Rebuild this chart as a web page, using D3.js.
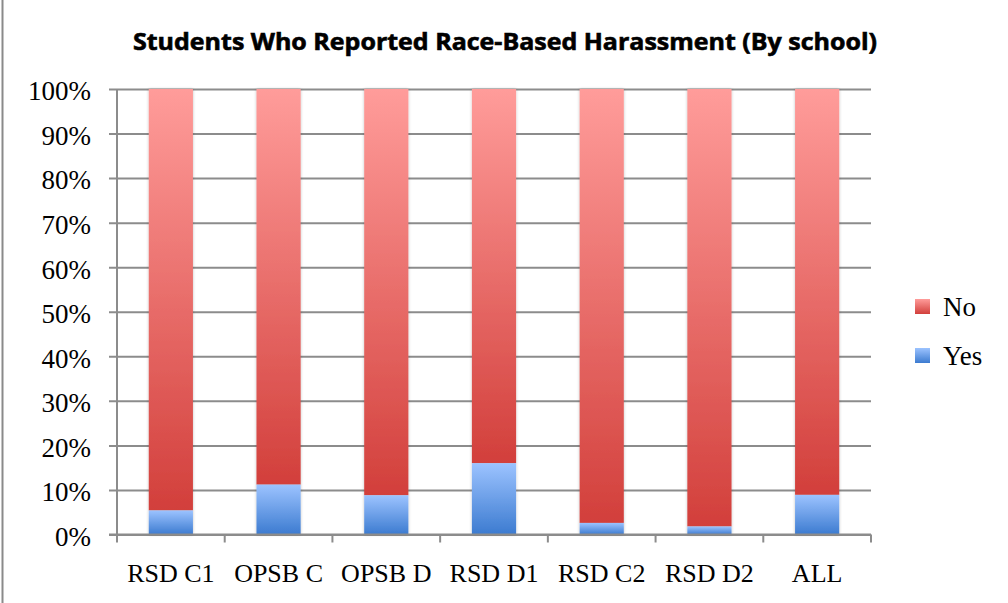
<!DOCTYPE html>
<html>
<head>
<meta charset="utf-8">
<script src="https://cdnjs.cloudflare.com/ajax/libs/d3/7.8.5/d3.min.js"></script>
<style>
  html, body { margin: 0; padding: 0; background: #fff; }
  svg { display: block; }
</style>
</head>
<body>
<svg id="chart" width="1008" height="603"></svg>
<script>
// Share of students reporting race-based harassment, per school
const schools = ["RSD C1", "OPSB C", "OPSB D", "RSD D1", "RSD C2", "RSD D2", "ALL"];
const yesPct = [5.4, 11.2, 8.8, 16.0, 2.6, 1.8, 8.9];
const noPct = yesPct.map(v => 100 - v);
const yTicks = [0, 10, 20, 30, 40, 50, 60, 70, 80, 90, 100];
const seriesNames = ["No", "Yes"];

const svg = d3.select("#chart");
const margin = { left: 117, right: 871, top: 89, bottom: 534.5 };
const serif = "'Liberation Serif', serif";

const x = d3.scaleBand().domain(schools).range([margin.left, margin.right]).paddingInner(0.59).paddingOuter(0.295);
const xOuter = d3.scaleBand().domain(schools).range([margin.left, margin.right]);
const y = d3.scaleLinear().domain([0, 100]).range([margin.bottom, margin.top]);

// frame edge on the left
svg.append("line").attr("x1", 2.5).attr("x2", 2.5).attr("y1", 0).attr("y2", 603)
  .attr("stroke", "#8a8a8a").attr("stroke-width", 2);

const defs = svg.append("defs");
function grad(id, top, bottom) {
  const g = defs.append("linearGradient").attr("id", id).attr("x1", 0).attr("x2", 0).attr("y1", 0).attr("y2", 1);
  g.append("stop").attr("offset", "0%").attr("stop-color", top);
  g.append("stop").attr("offset", "100%").attr("stop-color", bottom);
}
grad("gNo", "#ff9c9a", "#d23f3b");
grad("gYes", "#9cc3ff", "#3c7bd0");
const sh = defs.append("filter").attr("id", "shadow").attr("x", "-20%").attr("y", "-5%").attr("width", "140%").attr("height", "110%");
sh.append("feGaussianBlur").attr("in", "SourceAlpha").attr("stdDeviation", 1.5).attr("result", "b");
sh.append("feComponentTransfer").attr("in", "b").attr("result", "c")
  .append("feFuncA").attr("type", "linear").attr("slope", 0.25);
const m = sh.append("feMerge");
m.append("feMergeNode").attr("in", "c");
m.append("feMergeNode").attr("in", "SourceGraphic");

// horizontal gridlines with left tick stubs
const yAxis = d3.axisLeft(y).tickValues(yTicks).tickFormat(d => d + "%")
  .tickSize(-(margin.right - margin.left)).tickSizeOuter(0).tickPadding(26);
const gy = svg.append("g").attr("transform", `translate(${margin.left},0)`).call(yAxis);
gy.select(".domain").remove();
gy.selectAll(".tick line").attr("stroke", "#8c8c8c").attr("stroke-width", 2).attr("x1", -8);
gy.selectAll(".tick text").attr("font-family", serif).attr("font-size", 27).attr("dy", "0.4em").attr("fill", "#000");

// bars
const bars = svg.append("g").attr("filter", "url(#shadow)");
schools.forEach((s, i) => {
  bars.append("rect").attr("x", x(s)).attr("width", x.bandwidth())
    .attr("y", y(yesPct[i] + noPct[i])).attr("height", y(yesPct[i]) - y(yesPct[i] + noPct[i]))
    .attr("fill", "url(#gNo)");
  bars.append("rect").attr("x", x(s)).attr("width", x.bandwidth())
    .attr("y", y(yesPct[i])).attr("height", y(0) - y(yesPct[i]))
    .attr("fill", "url(#gYes)");
});

// axes lines
svg.append("line").attr("x1", margin.left).attr("x2", margin.left).attr("y1", margin.top).attr("y2", margin.bottom)
  .attr("stroke", "#8c8c8c").attr("stroke-width", 2);
svg.append("line").attr("x1", margin.left - 8).attr("x2", margin.right).attr("y1", margin.bottom).attr("y2", margin.bottom)
  .attr("stroke", "#8c8c8c").attr("stroke-width", 2);

// category boundary ticks
const bounds = schools.map(s => xOuter(s)).concat([margin.right]);
svg.append("g").selectAll("line").data(bounds).join("line")
  .attr("x1", d => d).attr("x2", d => d).attr("y1", margin.bottom).attr("y2", margin.bottom + 8)
  .attr("stroke", "#8c8c8c").attr("stroke-width", 2);

// category labels
svg.append("g").selectAll("text").data(schools).join("text")
  .attr("x", d => xOuter(d) + xOuter.bandwidth() / 2).attr("y", 581.5)
  .attr("text-anchor", "middle").attr("font-family", serif).attr("font-size", 26)
  .text(d => d);

// title
svg.append("text").attr("x", 505).attr("y", 50).attr("text-anchor", "middle")
  .attr("font-family", "'Open Sans', sans-serif").attr("font-weight", "bold").attr("font-size", 23)
  .attr("stroke", "#000").attr("stroke-width", 0.6)
  .attr("textLength", 744).attr("lengthAdjust", "spacingAndGlyphs")
  .text("Students Who Reported Race-Based Harassment (By school)");

// legend
const legend = svg.append("g");
seriesNames.forEach((n, i) => {
  const ly = 299 + i * 49;
  legend.append("rect").attr("x", 915).attr("y", ly).attr("width", 15).attr("height", 15)
    .attr("fill", n === "No" ? "url(#gNo)" : "url(#gYes)");
  legend.append("text").attr("x", 943).attr("y", ly + 17).attr("font-family", serif)
    .attr("font-size", 27).text(n);
});
</script>
</body>
</html>
